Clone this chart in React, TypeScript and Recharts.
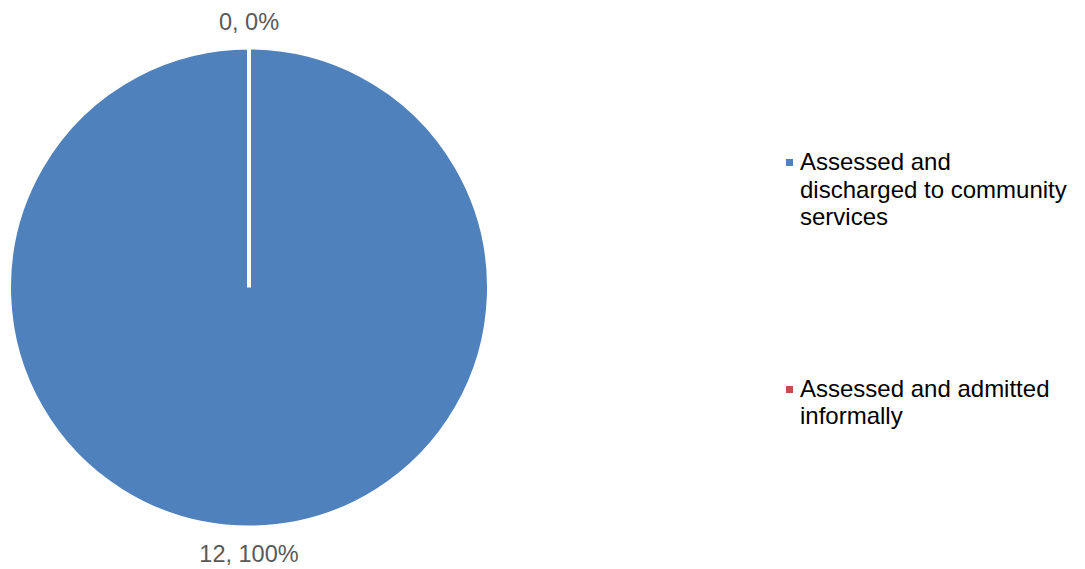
import { PieChart, Pie, Cell, Legend } from 'recharts';

const categories = ['Assessed and discharged to community services', 'Assessed and admitted informally'];
const counts = [12, 0];
const colors = ['#4F81BD', '#C0504D'];

const data = categories.map((name, i) => ({ name, value: counts[i] }));
const total = counts.reduce((a, b) => a + b, 0);

const RAD = Math.PI / 180;

const renderLabel = (props: any) => {
    const { cx, cy, midAngle, outerRadius, value } = props;
    const r = outerRadius + 26;
    const x = cx + r * Math.cos(-midAngle * RAD);
    const y = cy + r * Math.sin(-midAngle * RAD);
    const pct = total ? Math.round((value / total) * 100) : 0;
    return (
        <text
            x={x}
            y={y}
            textAnchor="middle"
            dominantBaseline="central"
            fill="#595959"
            fontSize={23.5}
            fontFamily="'Liberation Sans', Arial, sans-serif"
        >
            {`${value}, ${pct}%`}
        </text>
    );
};

const LegendContent = () => (
    <div style={{ fontFamily: "'Liberation Sans', Arial, sans-serif", fontSize: 24, lineHeight: '27.5px', color: '#000' }}>
        {data.map((d, i) => (
            <div key={d.name} style={{ display: 'flex', alignItems: 'flex-start', marginBottom: i === 0 ? 144 : 0 }}>
                <span
                    style={{
                        display: 'inline-block',
                        width: 7,
                        height: 7,
                        background: colors[i],
                        marginTop: 11,
                        marginRight: 7,
                        flexShrink: 0,
                    }}
                />
                <span style={{ width: 270 }}>{d.name}</span>
            </div>
        ))}
    </div>
);

export default function App() {
    return (
        <div style={{ position: 'absolute', left: 0, top: 0, width: 1085, height: 569, background: '#fff' }}>
            <PieChart width={1085} height={569} margin={{ top: 0, right: 0, bottom: 0, left: 0 }}>
                <Pie
                    data={data}
                    dataKey="value"
                    nameKey="name"
                    cx={249}
                    cy={287.5}
                    outerRadius={240}
                    startAngle={90}
                    endAngle={-270}
                    stroke="#ffffff"
                    strokeWidth={4}
                    label={renderLabel}
                    labelLine={false}
                    isAnimationActive={false}
                >
                    {data.map((d, i) => (
                        <Cell key={d.name} fill={colors[i]} />
                    ))}
                </Pie>
                <Legend
                    content={<LegendContent />}
                    wrapperStyle={{ position: 'absolute', left: 786, top: 148, width: 299 }}
                />
            </PieChart>
        </div>
    );
}
